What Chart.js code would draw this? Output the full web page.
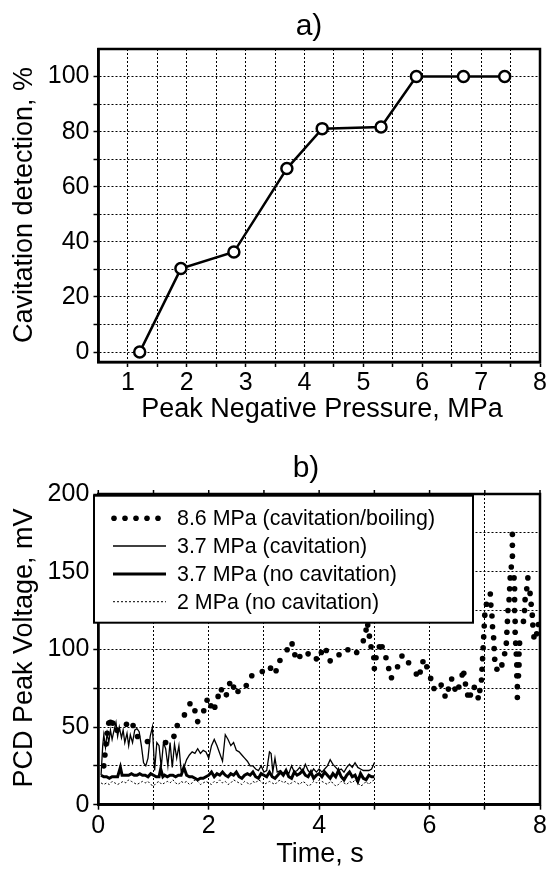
<!DOCTYPE html>
<html><head><meta charset="utf-8">
<script src="https://cdn.jsdelivr.net/npm/chart.js@4"></script>
<style>html,body{margin:0;padding:0;background:#fff;}#wrap{position:relative;width:556px;height:869px;overflow:hidden;}canvas{position:absolute;left:0;}</style>
</head><body><div id="wrap"><canvas id="ca" width="556" height="435" style="top:0"></canvas><canvas id="cb" width="556" height="434" style="top:435px"></canvas></div>
<script>
// ---------- Panel a data ----------
const pressure  = [1.2, 1.9, 2.8, 3.7, 4.3, 5.3, 5.9, 6.7, 7.4];
const detection = [0, 30.3, 36.3, 66.6, 81.1, 81.7, 100, 100, 100];
const aXTicks = [1, 1.5, 2, 2.5, 3, 3.5, 4, 4.5, 5, 5.5, 6, 6.5, 7, 7.5, 8];
const aYTicks = [0, 10, 20, 30, 40, 50, 60, 70, 80, 90, 100];

// ---------- Panel b data ----------
const bXTicks = [0, 1, 2, 3, 4, 5, 6, 7, 8];
const bYTicks = [0, 25, 50, 75, 100, 125, 150, 175, 200];

// 8.6 MPa (cavitation/boiling) - dotted trace
const boilT = [0.10,0.12,0.14,0.16,0.19,0.22,0.26,0.34,0.51,0.63,0.71,0.89,1.22,1.37,1.43,1.56,1.66,1.75,1.80,1.91,1.97,2.04,2.11,2.17,2.23,2.32,2.38,2.45,2.53,2.68,2.78,2.97,3.12,3.22,3.29,3.42,3.51,3.56,3.65,3.80,3.95,4.04,4.13,4.20,4.36,4.52,4.68,4.80,4.85,4.88,4.91,4.94,4.99,5.00,5.03,5.09,5.14,5.21,5.26,5.31,5.42,5.50,5.62,5.76,5.83,5.88,5.95,6.02,6.08,6.21,6.28,6.34,6.40,6.46,6.53,6.59,6.62,6.65,6.69,6.74,6.81,6.88,6.91,6.94,6.95,6.96,6.97,6.98,6.99,7.00,7.03,7.10,7.11,7.13,7.14,7.16,7.17,7.18,7.22,7.31,7.36,7.39,7.40,7.41,7.42,7.44,7.45,7.46,7.48,7.50,7.50,7.50,7.53,7.54,7.54,7.54,7.55,7.55,7.56,7.57,7.58,7.58,7.59,7.59,7.61,7.62,7.62,7.63,7.70,7.72,7.73,7.76,7.78,7.82,7.84,7.86,7.87,7.89,7.94,7.97];
const boilV = [25,32,39,46,52.5,53,52.5,48,51.8,51,43.9,40.7,40,44,51,57.8,65,60.5,53.5,60.5,67.2,63.7,62.8,69.7,74,70.7,78,75.7,72.9,76.7,83,85.7,87.9,86.2,92.8,99.7,103.5,96.5,95.4,97.1,93.9,98,99.3,92.6,96.5,99.7,98,105.5,112.4,115.6,108.5,101.7,94.6,87.7,94.6,101.7,101.7,94.6,87.7,81.7,88.8,95.7,91.4,84.1,85.4,92,88.8,81.3,74.8,77,70,74.4,80.9,74.4,75.8,83.5,84.6,77.7,70.6,70.6,75.5,68.8,73.5,80.3,87.2,94,101,108,115,122,129,135.6,128.5,121.5,114.5,107.5,100.5,93.6,87.2,90,97.2,104,111,118,125,132,139,146,153,160,167,174,146,139,132,125,118,111,104,97,90,83,76,69,83,90,97,104,118,125,132,139,146,136,129,122,115.7,108,110,116];

// 3.7 MPa (cavitation) - thin line
const cavT = [0.05,0.08,0.10,0.13,0.16,0.19,0.22,0.25,0.28,0.32,0.35,0.38,0.42,0.45,0.48,0.52,0.55,0.58,0.62,0.66,0.70,0.74,0.78,0.82,0.86,0.90,0.94,0.98,1.02,1.06,1.10,1.14,1.18,1.22,1.26,1.30,1.34,1.38,1.42,1.46,1.50,1.55,1.60,1.65,1.70,1.75,1.80,1.85,1.90,1.95,2.00,2.05,2.10,2.15,2.20,2.25,2.30,2.35,2.40,2.45,2.50,2.55,2.60,2.65,2.70,2.75,2.80,2.85,2.90,2.95,3.00,3.05,3.10,3.13,3.16,3.20,3.24,3.30,3.35,3.40,3.45,3.50,3.55,3.60,3.65,3.70,3.75,3.80,3.85,3.90,3.95,4.00,4.05,4.10,4.15,4.20,4.25,4.30,4.35,4.40,4.45,4.50,4.55,4.60,4.65,4.70,4.75,4.80,4.85,4.90,4.95,5.00];
const cavV = [19,38,45,37,46,40,48,42,47,53,44,50,43,48,40,46,38,45,40,48,49,47,38,27,25,30,44,50,22,40,38,24,40,36,25,40,24,39,30,38,22,24,29,32,34,33,36,33,35,34,30,38,42,38,33,28,45,42,38,40,35,34,32,30,28,25,25,23,22,25,21,22,34,33,21,30,21,22,20,22,20,25,21,22,24,21,26,22,20,23,21,23,21,23,25,29,26,24,22,23,21,24,26,24,27,24,23,22,22,22,23,27];

// 3.7 MPa (no cavitation) - thick line
const noCavT = [0.05,0.10,0.15,0.20,0.25,0.30,0.35,0.40,0.43,0.50,0.55,0.60,0.65,0.70,0.75,0.80,0.85,0.90,0.95,1.00,1.05,1.10,1.13,1.17,1.20,1.25,1.30,1.35,1.40,1.45,1.50,1.55,1.60,1.65,1.70,1.75,1.80,1.85,1.90,1.95,2.00,2.05,2.10,2.15,2.20,2.25,2.30,2.35,2.40,2.45,2.50,2.55,2.60,2.65,2.70,2.75,2.80,2.85,2.90,2.95,3.00,3.05,3.10,3.15,3.20,3.25,3.30,3.35,3.40,3.45,3.50,3.55,3.60,3.65,3.70,3.75,3.80,3.85,3.90,3.95,4.00,4.05,4.10,4.15,4.20,4.25,4.30,4.35,4.40,4.45,4.50,4.55,4.60,4.65,4.70,4.75,4.80,4.85,4.90,4.95,5.00];
const noCavV = [19,18,18,17,18,18,18,24,19,19,19,20,19,19,20,19,19,18,20,19,18,18,23,18,19,18,19,19,18,19,19,24,19,18,18,17,16,17,17,18,19,21,18,20,19,21,19,18,20,19,21,18,17,19,20,19,21,18,17,20,19,18,21,18,17,19,21,19,22,18,17,21,19,20,22,19,18,21,17,19,20,18,21,19,17,20,18,22,18,16,19,21,18,19,15,20,17,16,19,18,18];

// 2 MPa (no cavitation) - thin dotted line
const lowT = [0.05,0.10,0.15,0.20,0.25,0.30,0.35,0.40,0.45,0.50,0.55,0.60,0.65,0.70,0.75,0.80,0.85,0.90,0.95,1.00,1.05,1.10,1.15,1.20,1.25,1.30,1.35,1.40,1.45,1.50,1.55,1.60,1.65,1.70,1.75,1.80,1.85,1.90,1.95,2.00,2.05,2.10,2.15,2.20,2.25,2.30,2.35,2.40,2.45,2.50,2.55,2.60,2.65,2.70,2.75,2.80,2.85,2.90,2.95,3.00,3.05,3.10,3.15,3.20,3.25,3.30,3.35,3.40,3.45,3.50,3.55,3.60,3.65,3.70,3.75,3.80,3.85,3.90,3.95,4.00,4.05,4.10,4.15,4.20,4.25,4.30,4.35,4.40,4.45,4.50,4.55,4.60,4.65,4.70,4.75,4.80,4.85,4.90,4.95,5.00];
const lowV = [14,13,14,13,15,14,13,14,15,14,16,15,14,13,14,15,14,15,13,12,14,15,13,14,15,14,16,14,13,15,14,15,13,14,16,15,13,14,15,14,13,15,14,16,14,15,13,14,16,15,14,13,15,14,13,15,14,16,15,13,14,15,14,13,15,16,14,15,13,14,15,14,13,15,14,12,13,15,14,16,15,14,13,15,14,12,13,15,14,13,15,14,16,14,12,13,15,13,15,16];

const legendLabels = ['8.6 MPa (cavitation/boiling)', '3.7 MPa (cavitation)', '3.7 MPa (no cavitation)', '2 MPa (no cavitation)'];

// ---------- helpers ----------
const FONT = '"Liberation Sans", Arial, Helvetica, sans-serif';
const pts = (xs, ys) => xs.map((x, i) => ({x: x, y: ys[i]}));

function drawText(ctx, s, x, y, size, rot) {
  ctx.save();
  ctx.fillStyle = '#000';
  ctx.font = size + 'px ' + FONT;
  ctx.textAlign = 'center';
  ctx.textBaseline = 'middle';
  ctx.translate(x, y);
  if (rot) ctx.rotate(rot);
  ctx.fillText(s, 0, 0);
  ctx.restore();
}

function axisOpts(min, max, tickVals, labelFn, fitKey, fitVal, pad) {
  return {
    type: 'linear', min: min, max: max,
    afterBuildTicks: a => { a.ticks = tickVals.map(v => ({value: v})); },
    afterFit: a => { a[fitKey] = fitVal; },
    ticks: {autoSkip: false, maxRotation: 0, minRotation: 0, color: '#000',
            font: {family: FONT, size: 25}, padding: pad, callback: labelFn},
    grid: {color: '#000', lineWidth: 1, drawTicks: true, tickLength: 5,
           tickColor: '#000', tickWidth: 1.5, tickBorderDash: []},
    border: {display: true, color: '#000', width: 2.5, dash: [2, 2]}
  };
}

const framePlugin = {
  id: 'frame',
  afterDraw(chart) {
    const {ctx, chartArea: ca} = chart;
    ctx.save();
    ctx.strokeStyle = '#000';
    ctx.lineWidth = 2.5;
    ctx.setLineDash([]);
    ctx.strokeRect(ca.left, ca.top, ca.right - ca.left, ca.bottom - ca.top);
    ctx.restore();
  }
};

// ---------- Panel a ----------
new Chart(document.getElementById('ca'), {
  type: 'line',
  data: {datasets: [{
    data: pts(pressure, detection),
    borderColor: '#000', borderWidth: 2.5, tension: 0, fill: false,
    pointRadius: 5.5, pointBorderWidth: 2.5, pointBackgroundColor: '#fff', pointBorderColor: '#000'
  }]},
  options: {
    responsive: false, animation: false, devicePixelRatio: 1,
    layout: {padding: {left: 0, right: 16, top: 49, bottom: 0}},
    plugins: {legend: {display: false}, tooltip: {enabled: false}},
    scales: {
      x: axisOpts(0.5, 8, aXTicks, v => Number.isInteger(v) ? String(v) : '', 'height', 73, 1),
      y: axisOpts(-3.6, 110, aYTicks, v => (v % 20 === 0) ? String(v) : '', 'width', 98.5, 4)
    }
  },
  plugins: [framePlugin, {
    id: 'textA',
    afterDraw(chart) {
      const ctx = chart.ctx;
      drawText(ctx, 'a)', 309, 27, 30);
      drawText(ctx, 'Peak Negative Pressure, MPa', 322, 410, 27);
      drawText(ctx, 'Cavitation detection, %', 25, 205, 27, -Math.PI / 2);
    }
  }]
});

// ---------- Panel b ----------
new Chart(document.getElementById('cb'), {
  type: 'line',
  data: {datasets: [
    {label: legendLabels[3], data: pts(lowT, lowV), borderColor: '#000', borderWidth: 1, borderDash: [2, 2], pointRadius: 0, tension: 0, fill: false},
    {label: legendLabels[2], data: pts(noCavT, noCavV), borderColor: '#000', borderWidth: 3, pointRadius: 0, tension: 0, fill: false},
    {label: legendLabels[1], data: pts(cavT, cavV), borderColor: '#000', borderWidth: 1.3, pointRadius: 0, tension: 0, fill: false},
    {label: legendLabels[0], data: pts(boilT, boilV), showLine: false, pointRadius: 2.8, pointBorderWidth: 0, pointBackgroundColor: '#000', pointBorderColor: '#000'}
  ]},
  options: {
    responsive: false, animation: false, devicePixelRatio: 1,
    layout: {padding: {left: 0, right: 16, top: 59, bottom: 0}},
    plugins: {legend: {display: false}, tooltip: {enabled: false}},
    scales: {
      x: axisOpts(0, 8, bXTicks, v => (v % 2 === 0) ? String(v) : '', 'height', 64.3, 1),
      y: axisOpts(0, 200, bYTicks, v => (v % 50 === 0) ? String(v) : '', 'width', 98.3, 4)
    }
  },
  plugins: [framePlugin, {
    id: 'textB',
    afterDraw(chart) {
      const ctx = chart.ctx;
      const ca = chart.chartArea;
      const xs = chart.scales.x;
      // small ticks on top edge
      ctx.save();
      ctx.strokeStyle = '#000'; ctx.lineWidth = 1.5;
      bXTicks.forEach(v => {
        const px = xs.getPixelForValue(v);
        ctx.beginPath(); ctx.moveTo(px, ca.top); ctx.lineTo(px, ca.top - 4); ctx.stroke();
      });
      ctx.restore();
      // legend
      const L = 94, T = 60.7, W = 379, H = 127;
      ctx.save();
      ctx.fillStyle = '#fff';
      ctx.fillRect(L, T, W, H);
      ctx.strokeStyle = '#000'; ctx.lineWidth = 2;
      ctx.strokeRect(L, T, W, H);
      const rows = [83.3, 111, 139, 166.7];
      ctx.fillStyle = '#000';
      [114, 125, 136, 147, 158].forEach(x => { ctx.beginPath(); ctx.arc(x, rows[0], 2.8, 0, Math.PI * 2); ctx.fill(); });
      ctx.lineWidth = 1.3; ctx.beginPath(); ctx.moveTo(113, rows[1]); ctx.lineTo(166, rows[1]); ctx.stroke();
      ctx.lineWidth = 3; ctx.beginPath(); ctx.moveTo(113, rows[2]); ctx.lineTo(166, rows[2]); ctx.stroke();
      ctx.lineWidth = 1; ctx.setLineDash([2, 2]); ctx.beginPath(); ctx.moveTo(113, rows[3]); ctx.lineTo(166, rows[3]); ctx.stroke();
      ctx.setLineDash([]);
      ctx.font = '21.4px ' + FONT; ctx.textAlign = 'left'; ctx.textBaseline = 'middle';
      legendLabels.forEach((s, i) => ctx.fillText(s, 177, rows[i] + 1));
      ctx.restore();
      drawText(ctx, 'b)', 306, 34, 30);
      drawText(ctx, 'Time, s', 320, 420, 27);
      drawText(ctx, 'PCD Peak Voltage, mV', 25, 213, 27, -Math.PI / 2);
    }
  }]
});
</script></body></html>
